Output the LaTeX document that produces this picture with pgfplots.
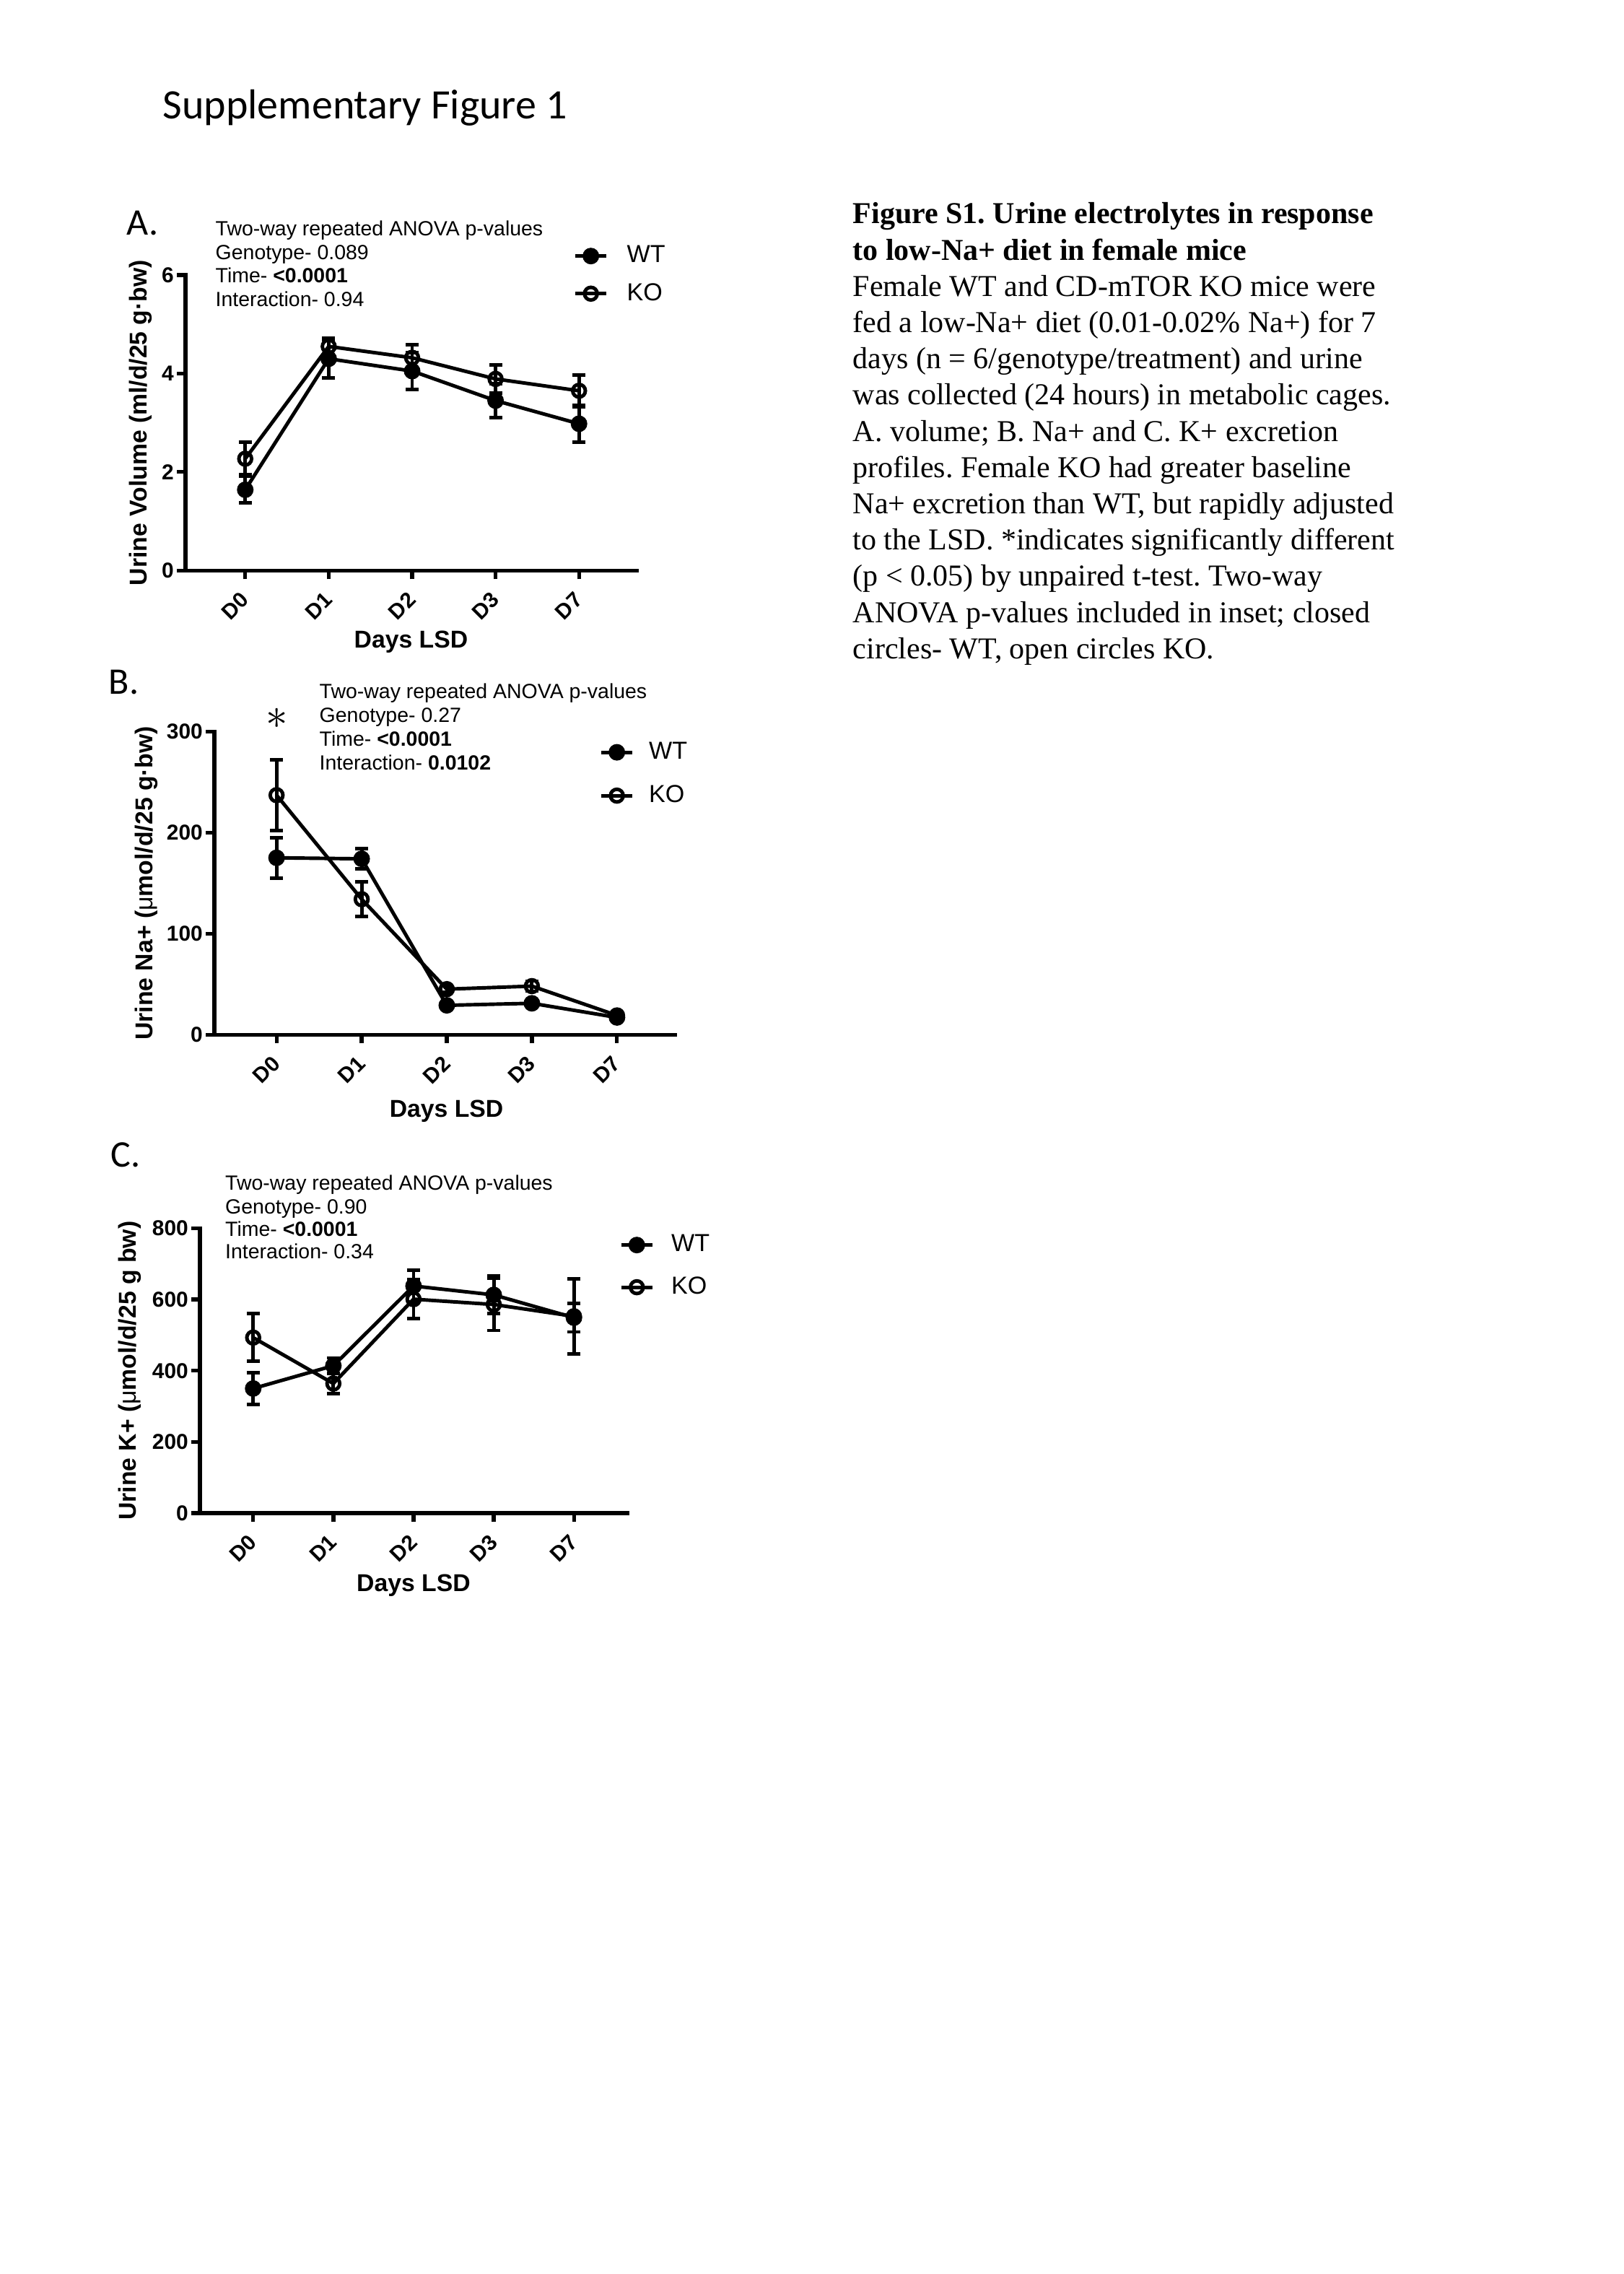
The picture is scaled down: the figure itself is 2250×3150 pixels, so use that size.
\documentclass[border=0pt]{standalone}
\usepackage{pgfplots}
\pgfplotsset{compat=1.18}
\usepackage{fontspec}
\setmainfont{Liberation Sans}
\newfontfamily\serif{Liberation Serif}
\newfontfamily\calib{Carlito}
\frenchspacing
\newcommand\ticfont{\bfseries\fontsize{8.5}{9}\selectfont}
\newcommand\labfont{\bfseries\fontsize{9.6}{11}\selectfont}
\newcommand\annfont{\fontsize{8.1}{9}\selectfont}
\newcommand\legfont{\fontsize{9.7}{11}\selectfont}
\newcommand\capfont{\serif\fontsize{11.95}{14}\selectfont}
\newcommand\letfont{\calib\fontsize{14.8}{16}\selectfont}

\pgfplotsset{
  panel/.style={
    scale only axis, clip=false,
    axis x line*=bottom, axis y line*=left,
    axis line style={line width=1.5pt, line cap=rect},
    tick style={line width=1.5pt, black},
    tick align=outside,
    major tick length=1.2mm,
    xtick={0,1,2,3,4},
    xticklabels={D0,D1,D2,D3,D7},
    xticklabel style={font=\ticfont, yshift=-2.3mm, rotate=45, anchor=east, inner sep=0pt},
    yticklabel style={font=\ticfont, inner sep=1pt},
    /pgf/number format/assume math mode=true,
    ymin=0,
    legend cell align=left,
    legend image code/.code={\draw[##1, mark repeat=2, mark phase=2] plot coordinates {(0mm,0mm) (2.15mm,0mm) (4.3mm,0mm)};},
  },
  wt/.style={black, line width=1.4pt, mark=*, mark size=0.9mm, mark options={fill=black, solid}},
  ko/.style={black, line width=1.4pt, mark=o, mark size=0.88mm, mark options={solid}},
  eb/.style={/pgfplots/error bars/y dir=both, /pgfplots/error bars/y explicit,
    /pgfplots/error bars/error bar style={line width=1.4pt},
    /pgfplots/error bars/error mark options={rotate=90, mark size=0.9mm, line width=1.4pt}},
}

\begin{document}
\begin{tikzpicture}[x=0.1mm, y=0.1mm]
\path[use as bounding box, fill=white] (0,0) rectangle (2250,3150);

% Title
\node[anchor=base west, inner sep=0pt, font=\calib\fontsize{16.5}{18}\selectfont] at (225,2985) {Supplementary Figure 1};

% ---------------- Panel A ----------------
\node[anchor=base west, inner sep=0pt, font=\letfont] at (175,2824) {A.};
\begin{axis}[panel,
  at={(25.7mm,235.97mm)}, anchor=south west,
  width=62.5mm, height=40.93mm,
  xmin=-0.716, xmax=4.69, ymax=6,
  ytick={0,2,4,6},
  xlabel={Days LSD},
  ylabel={Urine Volume (ml/d/25 g·bw)},
  every axis x label/.style={at={(axis description cs:0.5,-0.261)}, anchor=base, font=\labfont},
  every axis y label/.style={at={(axis description cs:-0.0992,0.5)}, anchor=center, rotate=90, font=\labfont},
  legend style={at={(0.8592,1.0004)}, anchor=west, draw=none, fill=none, inner sep=0pt,
    font=\legfont, row sep=2.32mm, nodes={inner sep=0pt},
    /tikz/every odd column/.style={column sep=2.6mm}},
]
\addplot[wt, eb] coordinates {(0,1.64) +- (0,0.27) (1,4.30) +- (0,0.39) (2,4.05) +- (0,0.37) (3,3.45) +- (0,0.35) (4,2.98) +- (0,0.38)};
\addlegendentry{WT}
\addplot[ko, eb] coordinates {(0,2.27) +- (0,0.33) (1,4.55) +- (0,0.17) (2,4.32) +- (0,0.27) (3,3.89) +- (0,0.29) (4,3.65) +- (0,0.32)};
\addlegendentry{KO}
\end{axis}
\node[anchor=base west, inner sep=0pt, font=\annfont] at (298,2823) {Two-way repeated ANOVA p-values};
\node[anchor=base west, inner sep=0pt, font=\annfont] at (298,2790.5) {Genotype- 0.089};
\node[anchor=base west, inner sep=0pt, font=\annfont] at (298,2758) {Time- \textbf{<0.0001}};
\node[anchor=base west, inner sep=0pt, font=\annfont] at (298,2725.5) {Interaction- 0.94};

% ---------------- Panel B ----------------
\node[anchor=base west, inner sep=0pt, font=\letfont] at (150,2188.5) {B.};
\begin{axis}[panel,
  at={(29.7mm,171.68mm)}, anchor=south west,
  width=63.8mm, height=41.99mm,
  xmin=-0.731, xmax=4.68, ymax=300,
  ytick={0,100,200,300},
  xlabel={Days LSD},
  ylabel={Urine Na+ ({\mdseries μ}mol/d/25 g·bw)},
  every axis x label/.style={at={(axis description cs:0.504,-0.273)}, anchor=base, font=\labfont},
  every axis y label/.style={at={(axis description cs:-0.147,0.5)}, anchor=center, rotate=90, font=\labfont},
  legend style={at={(0.8354,0.8597)}, anchor=west, draw=none, fill=none, inner sep=0pt,
    font=\legfont, row sep=3.11mm, nodes={inner sep=0pt},
    /tikz/every odd column/.style={column sep=2.06mm}},
]
\addplot[wt, eb] coordinates {(0,175) +- (0,20) (1,174) +- (0,10) (2,29) +- (0,2) (3,31) +- (0,3) (4,17) +- (0,2)};
\addlegendentry{WT}
\addplot[ko, eb] coordinates {(0,237) +- (0,35) (1,134) +- (0,17) (2,45) +- (0,3) (3,48) +- (0,5) (4,19) +- (0,3)};
\addlegendentry{KO}
\node[font=\fontsize{17}{17}\selectfont, inner sep=0pt] at (axis cs:0,313) {$\ast$};
\end{axis}
\node[anchor=base west, inner sep=0pt, font=\annfont] at (442,2182.3) {Two-way repeated ANOVA p-values};
\node[anchor=base west, inner sep=0pt, font=\annfont] at (442,2149.2) {Genotype- 0.27};
\node[anchor=base west, inner sep=0pt, font=\annfont] at (442,2116) {Time- \textbf{<0.0001}};
\node[anchor=base west, inner sep=0pt, font=\annfont] at (442,2083) {Interaction- \textbf{0.0102}};

% ---------------- Panel C ----------------
\node[anchor=base west, inner sep=0pt, font=\letfont] at (153,1533) {C.};
\begin{axis}[panel,
  at={(27.7mm,105.4mm)}, anchor=south west,
  width=59.26mm, height=39.45mm,
  xmin=-0.664, xmax=4.67, ymax=800,
  ytick={0,200,400,600,800},
  xlabel={Days LSD},
  ylabel={Urine K+ ({\mdseries μ}mol/d/25 g bw)},
  every axis x label/.style={at={(axis description cs:0.4995,-0.274)}, anchor=base, font=\labfont},
  every axis y label/.style={at={(axis description cs:-0.164,0.5)}, anchor=center, rotate=90, font=\labfont},
  legend style={at={(0.9798,0.867)}, anchor=west, draw=none, fill=none, inner sep=0pt,
    font=\legfont, row sep=2.95mm, nodes={inner sep=0pt},
    /tikz/every odd column/.style={column sep=2.4mm}},
]
\addplot[wt, eb] coordinates {(0,350) +- (0,45) (1,414) +- (0,22) (2,638) +- (0,45) (3,613) +- (0,53) (4,549) +- (0,40)};
\addlegendentry{WT}
\addplot[ko, eb] coordinates {(0,493) +- (0,67) (1,364) +- (0,28) (2,601) +- (0,55) (3,586) +- (0,73) (4,553) +- (0,105)};
\addlegendentry{KO}
\end{axis}
\node[anchor=base west, inner sep=0pt, font=\annfont] at (311.5,1501.6) {Two-way repeated ANOVA p-values};
\node[anchor=base west, inner sep=0pt, font=\annfont] at (311.5,1468.4) {Genotype- 0.90};
\node[anchor=base west, inner sep=0pt, font=\annfont] at (311.5,1437.4) {Time- \textbf{<0.0001}};
\node[anchor=base west, inner sep=0pt, font=\annfont] at (311.5,1406.3) {Interaction- 0.34};

% ---------------- Caption ----------------
\begin{scope}[every node/.style={anchor=base west, inner sep=0pt, font=\capfont}]
\node at (1181,2840) {\bfseries Figure S1. Urine electrolytes in response};
\node at (1181,2789.8) {\bfseries to low-Na+ diet in female mice};
\node at (1181,2739.6) {Female WT and CD-mTOR KO mice were};
\node at (1181,2689.4) {fed a low-Na+ diet (0.01-0.02\% Na+) for 7};
\node at (1181,2639.2) {days (n = 6/genotype/treatment) and urine};
\node at (1181,2589) {was collected (24 hours) in metabolic cages.};
\node at (1181,2538.8) {A. volume; B. Na+ and C. K+ excretion};
\node at (1181,2488.6) {profiles. Female KO had greater baseline};
\node at (1181,2438.4) {Na+ excretion than WT, but rapidly adjusted};
\node at (1181,2388.2) {to the LSD. *indicates significantly different};
\node at (1181,2338) {(p < 0.05) by unpaired t-test. Two-way};
\node at (1181,2287.8) {ANOVA p-values included in inset; closed};
\node at (1181,2237.6) {circles- WT, open circles KO.};
\end{scope}
\end{tikzpicture}
\end{document}
